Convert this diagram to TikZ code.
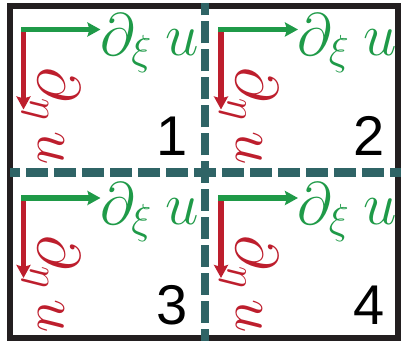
\RequirePackage{fix-cm}
\documentclass[tikz,border=0pt]{standalone}
\usepackage{fontspec}
\newfontfamily\numfont{Liberation Sans}
\usepackage{xcolor}
\definecolor{gridteal}{HTML}{2F6466}
\definecolor{xigreen}{HTML}{1F9A48}
\definecolor{etared}{HTML}{BD1E2D}
\definecolor{framegray}{HTML}{231F20}
\usepackage{tikz}
\usetikzlibrary{arrows.meta}

\begin{document}
\begin{tikzpicture}[
    x=0.5pt, y=-0.5pt,
    frame/.style={draw=framegray, line width=2.6pt},
    cut/.style={draw=gridteal, line width=4.2pt, dash pattern=on 11pt off 3pt, dash phase=5.5pt},
    dxarrow/.style={xigreen, line width=2.7pt, line cap=rect, -{Stealth[length=6.5pt, width=7pt, inset=1pt]}},
    dnarrow/.style={etared, line width=2.7pt, line cap=rect, -{Stealth[length=6.5pt, width=7pt, inset=1pt]}},
    dxlbl/.style={text=xigreen, anchor=base west, inner sep=0pt, font=\fontsize{30}{36}\selectfont},
    dnlbl/.style={text=etared, anchor=base west, inner sep=0pt, rotate=-90, font=\fontsize{30}{36}\selectfont},
    numlbl/.style={anchor=base, inner sep=0pt, font=\numfont\fontsize{28}{32}\selectfont}
  ]
    \useasboundingbox (0,0) rectangle (401,341);

    % frame and the two cuts
    \coordinate (nw) at (10,6);
    \coordinate (se) at (398,338);
    \coordinate (mid) at (205,172.5);
    \coordinate (cutL) at (10,172.5);
    \coordinate (cutR) at (401,172.5);
    \coordinate (cutT) at (205,3.5);
    \coordinate (cutB) at (205,341);
    \draw[frame] (nw) rectangle (se);
    \draw[cut] (mid) -- (cutL);
    \draw[cut] (mid) -- (cutR);
    \draw[cut] (mid) -- (cutT);
    \draw[cut] (mid) -- (cutB);

    % cell 1
    \coordinate (o1) at (23.5,29.5);
    \coordinate (x1) at (100.5,29.5);
    \coordinate (y1) at (23.5,109.5);
    \draw[dnarrow] (o1) -- (y1);
    \draw[dxarrow] (o1) -- (x1);
    \node[dxlbl] (dx1) at (100,56) {$\partial_\xi\mkern4mu u$};
    \node[dnlbl] (dn1) at (39,67) {$\partial_\eta\mkern3mu u$};
    \node[numlbl] (n1) at (172,156) {1};

    % cell 2
    \coordinate (o2) at (221,29.5);
    \coordinate (x2) at (298,29.5);
    \coordinate (y2) at (221,109.5);
    \draw[dnarrow] (o2) -- (y2);
    \draw[dxarrow] (o2) -- (x2);
    \node[dxlbl] (dx2) at (297.5,56) {$\partial_\xi\mkern4mu u$};
    \node[dnlbl] (dn2) at (236.5,67) {$\partial_\eta\mkern3mu u$};
    \node[numlbl] (n2) at (369.5,156) {2};

    % cell 3
    \coordinate (o3) at (23.5,198);
    \coordinate (x3) at (100.5,198);
    \coordinate (y3) at (23.5,278);
    \draw[dnarrow] (o3) -- (y3);
    \draw[dxarrow] (o3) -- (x3);
    \node[dxlbl] (dx3) at (100,224.5) {$\partial_\xi\mkern4mu u$};
    \node[dnlbl] (dn3) at (39,235.5) {$\partial_\eta\mkern3mu u$};
    \node[numlbl] (n3) at (172,324.5) {3};

    % cell 4
    \coordinate (o4) at (221,198);
    \coordinate (x4) at (298,198);
    \coordinate (y4) at (221,278);
    \draw[dnarrow] (o4) -- (y4);
    \draw[dxarrow] (o4) -- (x4);
    \node[dxlbl] (dx4) at (297.5,224.5) {$\partial_\xi\mkern4mu u$};
    \node[dnlbl] (dn4) at (236.5,235.5) {$\partial_\eta\mkern3mu u$};
    \node[numlbl] (n4) at (369.5,324.5) {4};
\end{tikzpicture}
\end{document}
